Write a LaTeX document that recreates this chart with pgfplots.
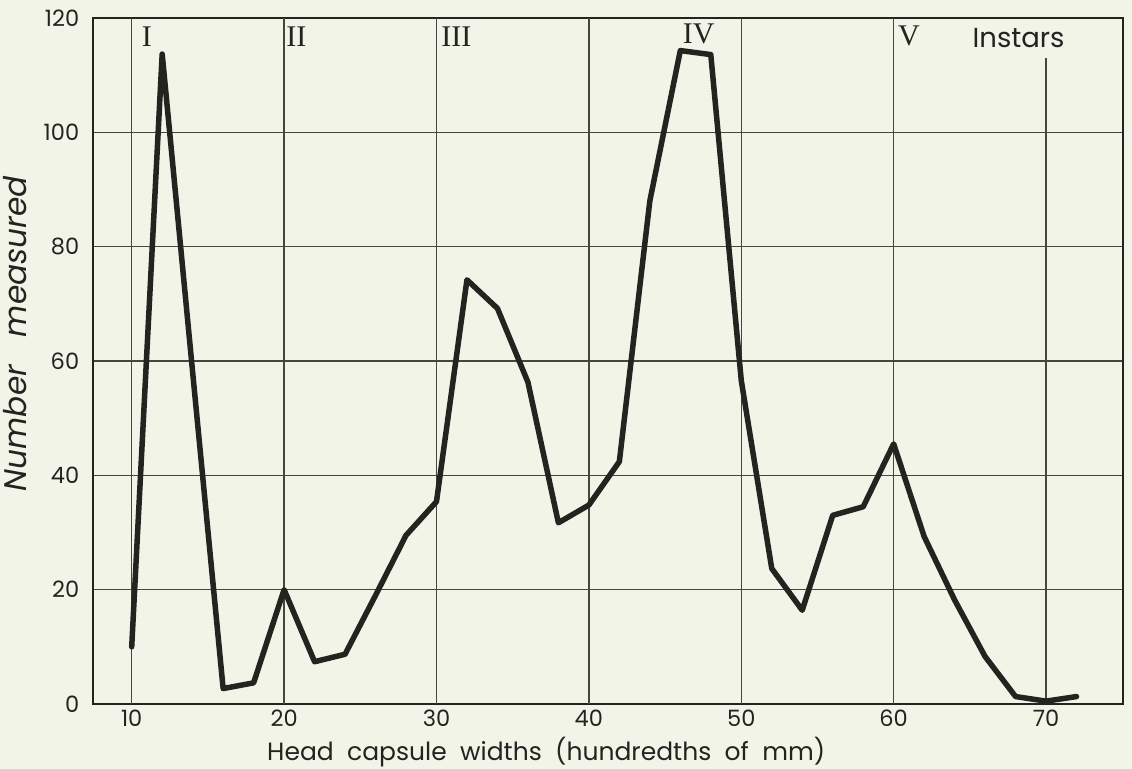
\documentclass[border=0pt]{standalone}
\usepackage{pgfplots}
\pgfplotsset{compat=1.18}
\usepackage{fontspec}
\setmainfont{Poppins}
\newfontfamily\numfont{Liberation Serif}
\definecolor{paper}{RGB}{243,244,232}
\definecolor{ink}{RGB}{35,35,32}
\definecolor{gridc}{RGB}{70,70,62}
\pagecolor{paper}

\pgfplotstableread{
x y
10 10.0
12 113.7
14 58.0
16 2.7
18 3.7
20 20.0
22 7.4
24 8.7
26 19.0
28 29.5
30 35.4
32 74.2
34 69.2
36 56.3
38 31.7
40 34.8
42 42.4
44 88.0
46 114.3
48 113.6
50 56.6
52 23.7
54 16.4
56 33.0
58 34.5
60 45.5
62 29.3
64 18.2
66 8.3
68 1.3
70 0.5
72 1.3
}\capsule

\begin{document}
\begin{tikzpicture}
\begin{axis}[
    name=ax,
    scale only axis,
    width=412pt, height=274.4pt,
    xmin=7.46, xmax=75.05,
    ymin=0, ymax=120,
    xtick={10,20,...,70},
    ytick={0,20,...,120},
    major tick length=0pt,
    ymajorgrids=true,
    grid style={gridc, line width=0.5pt},
    axis line style={ink, line width=1pt},
    tick label style={font=\fontsize{9}{10}\selectfont, text=ink},
    /pgf/number format/assume math mode=true,
    xticklabel style={yshift=1pt},
    yticklabel style={xshift=-2pt},
    xlabel={Head\ \ capsule\ \ widths\ \ (hundredths\ \ of\ \ mm)},
    ylabel={\itshape Number\ \ \ measured},
    xlabel style={font=\fontsize{10}{12}\selectfont, text=ink,
        at={(axis description cs:0.44,-0.07)}, anchor=center},
    ylabel style={font=\fontsize{12.5}{14}\selectfont, text=ink,
        at={(axis description cs:-0.0757,0.54)}, anchor=center},
    clip=false,
]
% vertical grid lines (the one at 70 stops below the "Instars" label)
\foreach \gx in {10,20,30,40,50,60} {
  \edef\tmp{\noexpand\draw[gridc, line width=0.5pt] (axis cs:\gx,0) -- (axis cs:\gx,120);}
  \tmp
}
\draw[gridc, line width=0.5pt] (axis cs:70,0) -- (axis cs:70,113);

\addplot[ink, line width=2.2pt, line join=round, line cap=round] table[x=x, y=y] {\capsule};

\tikzset{roman/.style={font=\numfont\fontsize{12}{14}\selectfont, text=ink}}
\node[roman] at (axis cs:11.0,116.8) {I};
\node[roman] at (axis cs:20.8,116.8) {II};
\node[roman] at (axis cs:31.3,116.8) {III};
\node[roman] at (axis cs:47.2,117.3) {IV};
\node[roman] at (axis cs:61.0,116.8) {V};
\node[font=\fontsize{11}{13}\selectfont, text=ink] at (axis cs:68.2,116.5) {Instars};
\end{axis}
\pgfresetboundingbox
\path ([shift={(-37.2pt,-26pt)}]ax.south west) rectangle ([shift={(3.6pt,7.2pt)}]ax.north east);
\end{tikzpicture}
\end{document}
